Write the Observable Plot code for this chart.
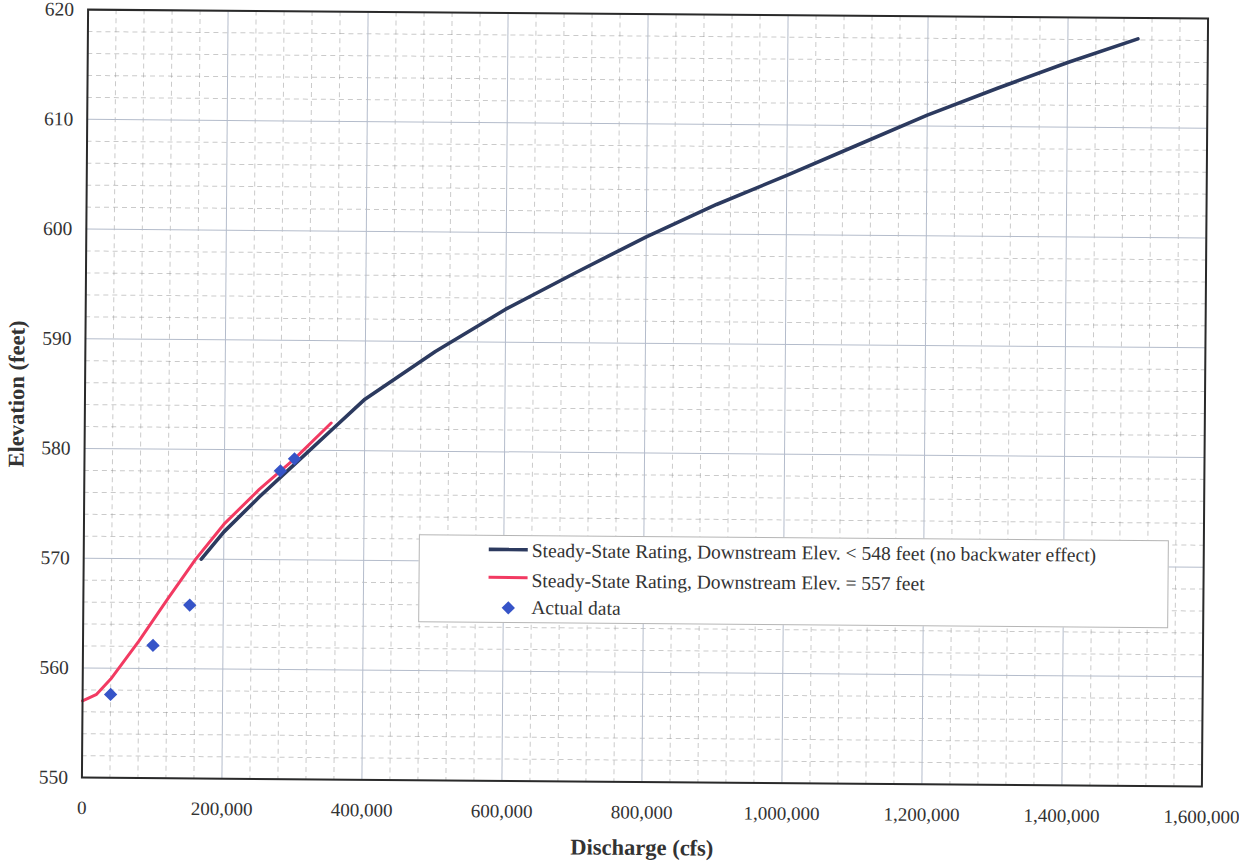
<!DOCTYPE html>
<html>
<head>
<meta charset="utf-8">
<script src="https://cdn.jsdelivr.net/npm/d3@7"></script>
<script src="https://cdn.jsdelivr.net/npm/@observablehq/plot@0.6"></script>
<style>
  html, body { margin: 0; padding: 0; background: #fff; }
  #chart {
    position: relative;
    width: 1239px;
    height: 861px;
    transform: rotate(0.46deg);
    transform-origin: 644.5px 397.6px;
    font-family: "Liberation Serif", Tinos, "Times New Roman", "DejaVu Serif", serif;
    color: #333;
  }
  #chart > svg { position: absolute; left: 0; top: 0; }
  #legend {
    position: absolute;
    left: 420px;
    top: 536px;
    width: 750px;
    height: 88px;
    box-sizing: border-box;
    border: 1px solid #b5b5b5;
    background: #fff;
  }
  #legend .row {
    position: absolute;
    left: 0;
    height: 24px;
    width: 100%;
  }
  #legend .row svg { position: absolute; left: 67px; top: 0; }
  #legend .row span {
    position: absolute;
    left: 112px;
    top: 0;
    line-height: 24px;
    font-size: 19.5px;
    white-space: nowrap;
    color: #333;
  }
</style>
</head>
<body>
<div id="chart"></div>
<script>
// Rating curve without backwater (tailwater below 548 ft)
const noBackwaterQ = [168000, 200000, 250000, 300000, 350000, 400000, 500000, 600000, 700000,
  800000, 900000, 1000000, 1100000, 1200000, 1300000, 1400000, 1500000];
const noBackwaterElev = [570.0, 572.5, 575.7, 578.7, 581.7, 584.7, 589.1, 593.0, 596.4,
  599.7, 602.7, 605.4, 608.2, 611.0, 613.5, 615.9, 618.1];

// Rating curve with tailwater at 557 ft
const backwaterQ = [0, 20000, 40000, 80000, 120000, 160000, 200000, 250000, 300000, 352000];
const backwaterElev = [557.0, 557.6, 559.0, 562.5, 566.3, 570.0, 573.2, 576.4, 579.2, 582.5];

// Observed stage / discharge pairs
const observedQ = [40000, 100000, 152000, 280000, 300000];
const observedElev = [557.6, 562.1, 565.8, 578.1, 579.2];

// Axis ticks and grid
const xMajor = [0, 200000, 400000, 600000, 800000, 1000000, 1200000, 1400000, 1600000];
const xMinor = d3.range(0, 1600001, 40000).filter(v => v % 200000 !== 0);
const yMajor = [550, 560, 570, 580, 590, 600, 610, 620];
const yMinor = d3.range(550, 621, 2).filter(v => v % 10 !== 0);

const legendItems = [
  "Steady-State Rating, Downstream Elev. < 548 feet (no backwater effect)",
  "Steady-State Rating, Downstream Elev. = 557 feet",
  "Actual data"
];

const navy = "#2c3a5f";
const red = "#f23a62";
const blue = "#3654c8";
const serif = "'Liberation Serif', Tinos, 'Times New Roman', 'DejaVu Serif', serif";

const noBackwater = noBackwaterQ.map((q, i) => ({q, elev: noBackwaterElev[i]}));
const backwater = backwaterQ.map((q, i) => ({q, elev: backwaterElev[i]}));
const observed = observedQ.map((q, i) => ({q, elev: observedElev[i]}));

const chart = Plot.plot({
  width: 1239,
  height: 861,
  marginLeft: 84.5,
  marginRight: 34.5,
  marginTop: 13.6,
  marginBottom: 79.4,
  style: {fontFamily: serif, background: "transparent", color: "#333", overflow: "visible"},
  x: {domain: [0, 1600000]},
  y: {domain: [550, 620]},
  marks: [
    Plot.ruleX(xMinor, {stroke: "#8a8a8a", strokeOpacity: 0.45, strokeDasharray: "5,4"}),
    Plot.ruleY(yMinor, {stroke: "#8a8a8a", strokeOpacity: 0.45, strokeDasharray: "5,4"}),
    Plot.ruleX(xMajor, {stroke: "#b4bccb", strokeWidth: 1}),
    Plot.ruleY(yMajor, {stroke: "#b4bccb", strokeWidth: 1}),
    Plot.axisX(xMajor, {tickSize: 0, tickPadding: 23, fontSize: 19, fontFamily: serif, tickFormat: d3.format(","), label: null, fill: "#333"}),
    Plot.axisY(yMajor, {tickSize: 0, tickPadding: 14, fontSize: 19.5, fontFamily: serif, label: null, fill: "#333"}),
    Plot.line(noBackwater, {x: "q", y: "elev", stroke: navy, strokeWidth: 3.6}),
    Plot.line(backwater, {x: "q", y: "elev", stroke: red, strokeWidth: 3}),
    Plot.dot(observed, {x: "q", y: "elev", symbol: "diamond2", r: 6, fill: blue, stroke: "none"}),
    Plot.frame({stroke: "#2a2a2a", strokeWidth: 2})
  ]
});

const root = document.getElementById("chart");
root.appendChild(chart);

// Axis titles, placed from the plot's own scales
const sx = chart.scale("x"), sy = chart.scale("y");
const svg = d3.select(chart);
const midX = (sx.apply(0) + sx.apply(1600000)) / 2;
const midY = (sy.apply(550) + sy.apply(620)) / 2;
svg.append("text")
  .attr("x", midX + 1)
  .attr("y", 855)
  .attr("text-anchor", "middle")
  .attr("font-family", serif)
  .attr("font-weight", "bold")
  .attr("font-size", 22.5)
  .attr("fill", "#333")
  .text("Discharge (cfs)");
svg.append("text")
  .attr("transform", `translate(24,${midY + 1.4}) rotate(-90)`)
  .attr("text-anchor", "middle")
  .attr("font-family", serif)
  .attr("font-weight", "bold")
  .attr("font-size", 22.5)
  .attr("fill", "#333")
  .text("Elevation (feet)");

// Legend box
const legend = document.createElement("div");
legend.id = "legend";
const rowTops = [3.4, 33.4, 60];
const swatchY = [10.6, 8.6, 12];
legendItems.forEach((label, i) => {
  const row = document.createElement("div");
  row.className = "row";
  row.style.top = rowTops[i] + "px";
  const sw = d3.create("svg").attr("width", 42).attr("height", 24);
  if (i === 0) sw.append("line").attr("x1", 2).attr("x2", 41).attr("y1", swatchY[i]).attr("y2", swatchY[i]).attr("stroke", navy).attr("stroke-width", 3.6);
  if (i === 1) sw.append("line").attr("x1", 2).attr("x2", 41).attr("y1", swatchY[i]).attr("y2", swatchY[i]).attr("stroke", red).attr("stroke-width", 3);
  if (i === 2) sw.append("path").attr("d", d3.symbol(d3.symbolDiamond2, 6 * 6 * Math.PI)()).attr("transform", `translate(22,${swatchY[i]})`).attr("fill", blue);
  row.appendChild(sw.node());
  const span = document.createElement("span");
  span.textContent = label;
  span.style.fontFamily = serif;
  row.appendChild(span);
  legend.appendChild(row);
});
root.appendChild(legend);
</script>
</body>
</html>
